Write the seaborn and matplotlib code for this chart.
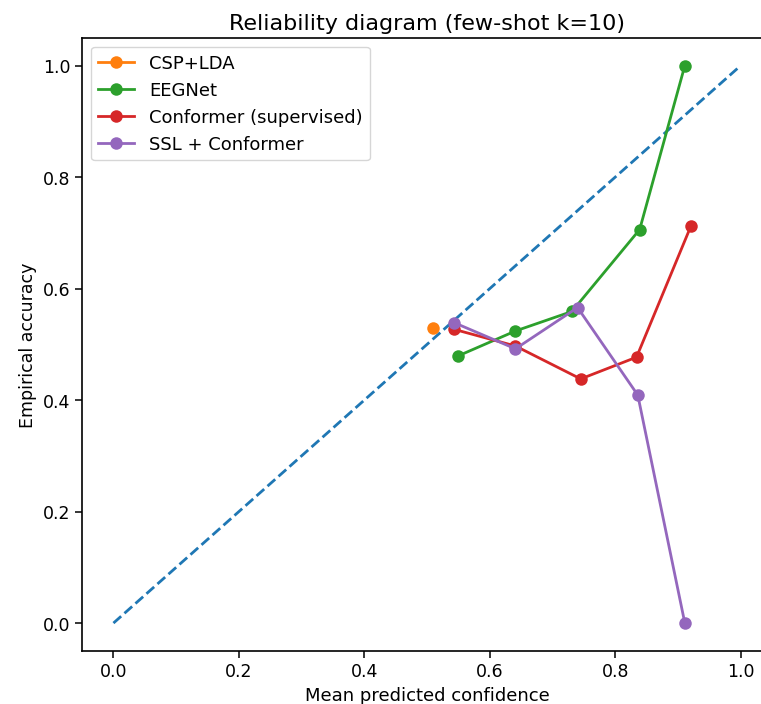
import numpy as np
import pandas as pd
import seaborn as sns
import matplotlib.pyplot as plt

# mean predicted confidence / empirical accuracy per bin
csp_conf = [0.509]
csp_acc = [0.530]

eegnet_conf = [0.549, 0.641, 0.731, 0.839, 0.911]
eegnet_acc = [0.479, 0.524, 0.559, 0.706, 1.000]

conformer_conf = [0.543, 0.641, 0.745, 0.834, 0.921]
conformer_acc = [0.527, 0.497, 0.438, 0.477, 0.713]

ssl_conf = [0.543, 0.641, 0.740, 0.836, 0.911]
ssl_acc = [0.539, 0.492, 0.566, 0.409, 0.000]

diag = [0.0, 1.0]

series = [
    ('CSP+LDA', csp_conf, csp_acc, 'tab:orange'),
    ('EEGNet', eegnet_conf, eegnet_acc, 'tab:green'),
    ('Conformer (supervised)', conformer_conf, conformer_acc, 'tab:red'),
    ('SSL + Conformer', ssl_conf, ssl_acc, 'tab:purple'),
]

plt.rcParams['font.family'] = ['DejaVu Sans']

fig = plt.figure(figsize=(7.615, 7.045), dpi=100)
# the right edge of the axes is cut off in the source image
ax = fig.add_axes([0.1078, 0.0753, 0.906, 0.8704])

# perfect calibration line
sns.lineplot(x=diag, y=diag, ax=ax, color='tab:blue', linestyle='--', lw=2)

for name, xs, ys, c in series:
    df = pd.DataFrame({'conf': xs, 'acc': ys})
    sns.lineplot(data=df, x='conf', y='acc', ax=ax, color=c, marker='o',
                 markersize=9, markeredgewidth=0, lw=2, sort=False, label=name)

ax.set_xlim(-0.05, 1.05)
ax.set_ylim(-0.05, 1.05)
ax.set_xticks([0.0, 0.2, 0.4, 0.6, 0.8, 1.0])
ax.set_yticks([0.0, 0.2, 0.4, 0.6, 0.8, 1.0])
ax.tick_params(labelsize=12.5, length=5, width=1.1)
for s in ax.spines.values():
    s.set_linewidth(1.2)
ax.spines['right'].set_visible(False)
ax.set_xlabel('Mean predicted confidence', fontsize=13)
ax.set_ylabel('Empirical accuracy', fontsize=12.5)
ax.set_title('Reliability diagram (few-shot k=10)', fontsize=16)
ax.legend(loc='upper left', fontsize=13, handlelength=2.0)

fig.savefig('out.png', dpi=100)
